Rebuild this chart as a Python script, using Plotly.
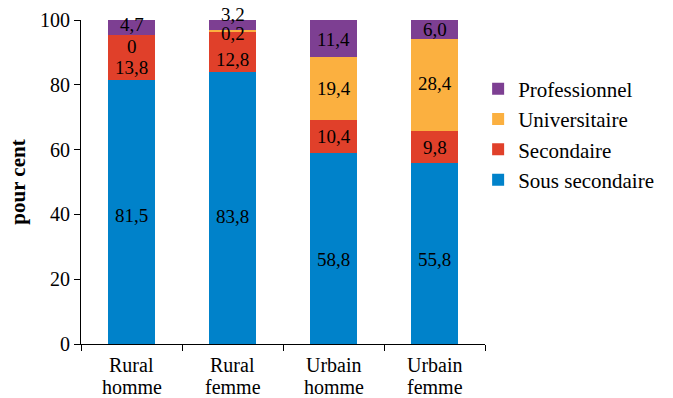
import plotly.graph_objects as go

categories = ["Rural<br>homme", "Rural<br>femme", "Urbain<br>homme", "Urbain<br>femme"]
series_names = ["Sous secondaire", "Secondaire", "Universitaire", "Professionnel"]
sous_secondaire = [81.5, 83.8, 58.8, 55.8]
secondaire = [13.8, 12.8, 10.4, 9.8]
universitaire = [0, 0.2, 19.4, 28.4]
professionnel = [4.7, 3.2, 11.4, 6.0]
y_ticks = [0, 20, 40, 60, 80, 100]

colors = ["#0082CA", "#E0402A", "#FBB040", "#7D3F92"]
# label vertical nudges (pixels, positive = up) per series per category
label_shift = [
    [-4, -8, -11, -6],
    [-10, -8, 0, 0],
    [-11, -3, 0, 2],
    [3, 11, -1, 0],
]

series = [sous_secondaire, secondaire, universitaire, professionnel]
FONT = "Liberation Serif, Times New Roman, serif"

fig = go.Figure()
for i, (name, vals, col) in enumerate(zip(series_names, series, colors)):
    fig.add_trace(go.Bar(x=categories, y=vals, name=name, marker_color=col,
                         marker_line_width=0, width=0.46))

annotations = []
base = [0] * len(categories)
for si, vals in enumerate(series):
    for ci, v in enumerate(vals):
        label = f"{v:.1f}".replace(".", ",") if v != 0 else "0"
        annotations.append(dict(x=categories[ci], y=base[ci] + v / 2, text=label,
                                showarrow=False, yshift=label_shift[si][ci], borderpad=0,
                                font=dict(family=FONT, size=19, color="black")))
        base[ci] += v

# category labels (two lines, tight line spacing)
line_shifts = [-21, -43]
for cat in categories:
    for li, part in enumerate(cat.split("<br>")):
        annotations.append(dict(x=cat, y=0, yref="y", text=part, showarrow=False,
                                yanchor="middle", yshift=line_shifts[li], borderpad=0,
                                font=dict(family=FONT, size=20, color="black")))

fig.update_layout(
    barmode="stack",
    width=673, height=398,
    margin=dict(l=81, r=188, t=20, b=54),
    paper_bgcolor="white", plot_bgcolor="white",
    font=dict(family=FONT, size=20, color="black"),
    annotations=annotations,
    legend=dict(traceorder="reversed", x=0.983, y=0.85, yanchor="top",
                font=dict(family=FONT, size=21, color="black"), itemwidth=30),
    xaxis=dict(showline=True, linecolor="black", linewidth=1, ticks="outside",
               tickson="boundaries", ticklen=6, tickcolor="black", automargin=False,
               showticklabels=False, showgrid=False),
    yaxis=dict(range=[0, 100], tickvals=y_ticks, showline=True, linecolor="black",
               linewidth=1, ticks="outside", ticklen=6, tickcolor="black",
               showgrid=False, zeroline=False, automargin=False,
               tickfont=dict(family=FONT, size=20, color="black"),
               title=dict(text="<b>pour cent</b>",
                          font=dict(family=FONT, size=21, color="black"),
                          standoff=8)),
)

fig.write_html("out.html")
